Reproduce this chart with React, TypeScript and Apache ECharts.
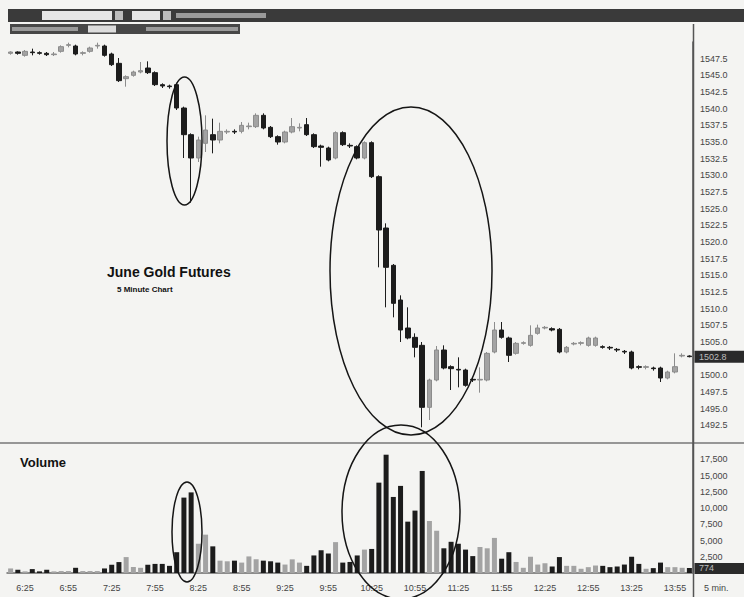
import React, { useEffect, useRef } from 'react';
import * as echarts from 'echarts';

// 5-minute bars starting 6:15
const START_MIN = 6 * 60 + 15;
const BAR_COUNT = 95;
const times: string[] = [];
for (let i = 0; i < BAR_COUNT; i++) {
  const t = START_MIN + i * 5;
  times.push(`${Math.floor(t / 60)}:${String(t % 60).padStart(2, '0')}`);
}

// [open, close, low, high]
const candles: number[][] = [
  [1548.3, 1548.5, 1548.1, 1548.6],
  [1548.5, 1548.3, 1548.1, 1548.6],
  [1548.0, 1548.6, 1547.8, 1548.8],
  [1548.5, 1548.4, 1548.0, 1549.0],
  [1548.4, 1548.3, 1548.1, 1548.6],
  [1548.3, 1548.1, 1547.9, 1548.5],
  [1548.1, 1548.2, 1547.9, 1548.5],
  [1548.6, 1549.3, 1548.4, 1549.5],
  [1549.5, 1549.6, 1549.2, 1549.9],
  [1549.4, 1548.2, 1548.0, 1549.6],
  [1548.3, 1548.4, 1548.0, 1548.6],
  [1548.6, 1549.1, 1548.4, 1549.3],
  [1549.4, 1549.5, 1549.0, 1549.9],
  [1549.4, 1548.0, 1547.8, 1549.6],
  [1548.2, 1546.6, 1546.4, 1548.4],
  [1546.8, 1544.2, 1544.0, 1547.6],
  [1544.5, 1544.8, 1543.3, 1545.0],
  [1545.0, 1545.5, 1544.8, 1545.7],
  [1545.5, 1545.7, 1545.3, 1547.0],
  [1546.1, 1545.4, 1545.2, 1547.1],
  [1545.4, 1543.6, 1543.4, 1545.6],
  [1543.6, 1543.4, 1543.1, 1543.8],
  [1543.4, 1543.3, 1543.0, 1543.6],
  [1543.6, 1540.1, 1539.8, 1543.9],
  [1540.1, 1536.1, 1532.6, 1540.3],
  [1536.1, 1532.6, 1525.9, 1536.3],
  [1532.6, 1535.3, 1532.0, 1535.8],
  [1534.8, 1536.8, 1533.5, 1539.0],
  [1536.1, 1535.3, 1533.3, 1538.5],
  [1535.3, 1536.6, 1534.8, 1537.9],
  [1536.5, 1536.6, 1536.2, 1536.9],
  [1536.6, 1536.5, 1536.2, 1536.9],
  [1536.6, 1537.5, 1536.3, 1538.0],
  [1537.3, 1537.4, 1536.9, 1537.9],
  [1537.3, 1539.0, 1537.1, 1539.3],
  [1539.0, 1537.1, 1536.9, 1539.3],
  [1537.2, 1535.8, 1535.6, 1537.4],
  [1535.8, 1535.0, 1534.6, 1536.0],
  [1535.0, 1536.5, 1534.8, 1536.7],
  [1536.5, 1537.3, 1536.3, 1538.6],
  [1537.1, 1537.2, 1536.6, 1537.8],
  [1537.6, 1536.1, 1535.9, 1538.6],
  [1536.1, 1534.3, 1534.1, 1536.3],
  [1534.4, 1534.2, 1531.3, 1534.6],
  [1534.1, 1532.3, 1532.1, 1534.3],
  [1532.6, 1536.4, 1532.4, 1536.6],
  [1536.4, 1534.6, 1534.4, 1536.6],
  [1534.5, 1534.4, 1534.1, 1534.8],
  [1534.3, 1532.6, 1532.4, 1534.5],
  [1532.6, 1534.9, 1532.4, 1535.1],
  [1534.9, 1529.8, 1529.6, 1535.1],
  [1529.8, 1521.8, 1516.2, 1530.0],
  [1522.1, 1516.2, 1510.2, 1522.8],
  [1516.5, 1510.8, 1508.7, 1516.7],
  [1511.3, 1506.8, 1505.0, 1512.0],
  [1507.1, 1505.6, 1505.4, 1510.2],
  [1505.7, 1504.2, 1502.7, 1506.3],
  [1504.5, 1495.2, 1492.2, 1505.0],
  [1495.2, 1499.3, 1493.3, 1499.5],
  [1499.3, 1503.8, 1499.1, 1504.4],
  [1503.8, 1501.1, 1500.9, 1504.5],
  [1501.3, 1501.0, 1497.8, 1501.5],
  [1500.9, 1500.8, 1498.2, 1502.7],
  [1500.8, 1498.5, 1498.3, 1501.0],
  [1499.4, 1499.3, 1499.0, 1499.6],
  [1499.3, 1499.4, 1497.4, 1501.2],
  [1499.3, 1503.3, 1499.1, 1503.5],
  [1503.5, 1506.8, 1503.3, 1508.0],
  [1506.8, 1505.7, 1505.5, 1508.0],
  [1505.6, 1503.0, 1502.0, 1505.8],
  [1503.3, 1504.8, 1503.1, 1505.0],
  [1504.8, 1504.9, 1504.6, 1505.1],
  [1504.5, 1506.0, 1504.3, 1507.5],
  [1506.3, 1507.1, 1506.1, 1507.6],
  [1507.1, 1507.2, 1506.9, 1507.4],
  [1507.0, 1506.8, 1506.6, 1507.2],
  [1506.9, 1503.5, 1503.3, 1507.1],
  [1503.5, 1504.2, 1503.3, 1504.4],
  [1504.7, 1504.8, 1504.5, 1505.0],
  [1504.8, 1504.9, 1504.5, 1505.1],
  [1504.5, 1505.6, 1504.3, 1505.8],
  [1504.5, 1505.6, 1504.3, 1505.8],
  [1504.3, 1504.2, 1504.0, 1504.5],
  [1504.2, 1504.1, 1503.8, 1504.4],
  [1503.9, 1503.8, 1503.5, 1504.1],
  [1503.6, 1503.5, 1503.2, 1503.8],
  [1503.5, 1501.1, 1500.9, 1503.7],
  [1501.3, 1501.2, 1500.9, 1501.5],
  [1501.2, 1501.3, 1500.9, 1501.5],
  [1501.1, 1501.0, 1500.7, 1501.3],
  [1501.1, 1499.6, 1499.0, 1501.3],
  [1499.6, 1500.5, 1499.4, 1500.7],
  [1500.5, 1501.3, 1500.3, 1503.3],
  [1502.9, 1503.0, 1502.7, 1503.3],
  [1502.9, 1502.8, 1502.7, 1503.0],
];

const volumes: number[] = [
  700, 500, 250, 600, 250, 500, 250, 300, 300, 800,
  300, 300, 300, 700, 1270, 1680, 2450, 920, 800, 1270,
  1400, 1400, 1100, 3200, 11600, 12400, 4500, 5900, 4100, 1900,
  1800, 1900, 1600, 2550, 2100, 1900, 1800, 1600, 1300, 2100,
  1600, 1100, 2700, 3500, 3000, 4750, 1600, 1700, 2700, 3600,
  3700, 13900, 18200, 11700, 13400, 7900, 9600, 15700, 8000, 6500,
  3800, 4800, 4500, 3600, 2600, 4000, 3800, 5400, 2200, 3200,
  1700, 800, 2500, 1300, 1500, 1000, 2450, 1100, 1100, 650,
  900, 1150, 1100, 900, 1000, 1300, 2500, 1400, 650, 750,
  1600, 900, 900, 800, 774,
];

const PRICE_MIN = 1490;
const PRICE_MAX = 1550;
const PRICE_STEP = 2.5;
const VOL_MIN = 0;
const VOL_MAX = 20000;
const VOL_STEP = 2500;

const W = 744;
const H = 597;
const FONT = 'Liberation Sans, Arial, Helvetica, sans-serif';
const DARK = '#1c1c1c';
const GREY = '#a3a3a3';

export default function App() {
  const ref = useRef<HTMLDivElement>(null);
  useEffect(() => {
    if (!ref.current) return;
    const chart = echarts.init(ref.current, null, { renderer: 'svg', width: W, height: H });
    const lastClose = candles[candles.length - 1][1];
    const lastVol = volumes[volumes.length - 1];
    const volData = volumes.map((v, i) => {
      const [o, c] = candles[i];
      return { value: v, itemStyle: { color: c < o ? DARK : GREY } };
    });
    const axisLabelBase = { fontSize: 9, color: '#454545', fontFamily: FONT };
    chart.setOption({
      animation: false,
      backgroundColor: '#f4f4f2',
      grid: [
        { left: 7, top: 42, width: 686, height: 400 },
        { left: 7, top: 443, width: 686, height: 130 },
      ],
      xAxis: [
        {
          type: 'category', gridIndex: 0, data: times,
          axisLine: { show: false }, axisTick: { show: false },
          axisLabel: { show: false }, splitLine: { show: false },
        },
        {
          type: 'category', gridIndex: 1, data: times,
          axisLine: { show: true, lineStyle: { color: '#6a6a6a', width: 1.5 } },
          axisTick: { show: false },
          axisLabel: { ...axisLabelBase, interval: (i: number) => i % 6 === 2, margin: 10 },
          splitLine: { show: false },
        },
      ],
      yAxis: [
        {
          type: 'value', gridIndex: 0, position: 'right',
          min: PRICE_MIN, max: PRICE_MAX, interval: PRICE_STEP,
          axisLine: { show: true, lineStyle: { color: '#555', width: 1.5 } },
          axisTick: { show: false }, splitLine: { show: false },
          axisLabel: {
            ...axisLabelBase, margin: 7, showMinLabel: false, showMaxLabel: false,
            formatter: (v: number) => (Math.abs(v - 1502.5) < 0.01 ? '' : v.toFixed(1)),
          },
        },
        {
          type: 'value', gridIndex: 1, position: 'right',
          min: VOL_MIN, max: VOL_MAX, interval: VOL_STEP,
          axisLine: { show: true, lineStyle: { color: '#555', width: 1.5 } },
          axisTick: { show: false }, splitLine: { show: false },
          axisLabel: {
            ...axisLabelBase, margin: 7, showMinLabel: false, showMaxLabel: false,
            formatter: (v: number) => v.toLocaleString('en-US'),
          },
        },
      ],
      series: [
        {
          type: 'candlestick', xAxisIndex: 0, yAxisIndex: 0, data: candles,
          barWidth: 5,
          itemStyle: { color: GREY, color0: DARK, borderColor: '#8c8c8c', borderColor0: DARK, borderWidth: 1 },
        },
        {
          type: 'bar', xAxisIndex: 1, yAxisIndex: 1, data: volData,
          barWidth: 5,
        },
      ],
    });

    // last-value boxes positioned through the axes' own scales
    const yPrice = chart.convertToPixel({ yAxisIndex: 0 }, lastClose) as number;
    const yVol = chart.convertToPixel({ yAxisIndex: 1 }, lastVol) as number;

    chart.setOption({
      graphic: [
        // toolbar
        { type: 'rect', shape: { x: 8, y: 9, width: 736, height: 13 }, style: { fill: '#3a3a3a' } },
        { type: 'rect', shape: { x: 42, y: 11, width: 70, height: 9 }, style: { fill: '#e6e6e6' } },
        { type: 'rect', shape: { x: 115, y: 11, width: 8, height: 9 }, style: { fill: '#bdbdbd' } },
        { type: 'rect', shape: { x: 132, y: 11, width: 28, height: 9 }, style: { fill: '#e6e6e6' } },
        { type: 'rect', shape: { x: 163, y: 11, width: 8, height: 9 }, style: { fill: '#bdbdbd' } },
        { type: 'rect', shape: { x: 176, y: 13, width: 90, height: 5 }, style: { fill: '#9a9a9a' } },
        { type: 'rect', shape: { x: 10, y: 24, width: 230, height: 10 }, style: { fill: '#474747' } },
        { type: 'rect', shape: { x: 12, y: 27, width: 66, height: 4 }, style: { fill: '#9a9a9a' } },
        { type: 'rect', shape: { x: 88, y: 25.5, width: 28, height: 7 }, style: { fill: '#dcdcdc' } },
        { type: 'rect', shape: { x: 146, y: 27, width: 92, height: 4 }, style: { fill: '#9a9a9a' } },
        // panel separator and axis line
        { type: 'line', shape: { x1: 0, y1: 443, x2: 744, y2: 443 }, style: { stroke: '#777', lineWidth: 1.5 } },
        { type: 'line', shape: { x1: 693.5, y1: 24, x2: 693.5, y2: 597 }, style: { stroke: '#555', lineWidth: 1.5 } },
        // last price / last volume boxes
        { type: 'rect', z: 50, shape: { x: 694.5, y: yPrice - 6, width: 50, height: 12 }, style: { fill: '#2a2a2a' } },
        { type: 'text', z: 51, x: 699, y: yPrice, style: { text: lastClose.toFixed(1), font: `9px ${FONT}`, fill: '#bdbdbd', textVerticalAlign: 'middle' } },
        { type: 'rect', z: 50, shape: { x: 694.5, y: yVol - 5, width: 50, height: 11 }, style: { fill: '#2a2a2a' } },
        { type: 'text', z: 51, x: 699, y: yVol + 0.5, style: { text: String(lastVol), font: `9px ${FONT}`, fill: '#bdbdbd', textVerticalAlign: 'middle' } },
        // texts
        { type: 'text', x: 107, y: 272, style: { text: 'June Gold Futures', font: `bold 14px ${FONT}`, fill: '#111', textVerticalAlign: 'middle' } },
        { type: 'text', x: 117, y: 289, style: { text: '5 Minute Chart', font: `bold 8px ${FONT}`, fill: '#111', textVerticalAlign: 'middle' } },
        { type: 'text', x: 20, y: 462, style: { text: 'Volume', font: `bold 13px ${FONT}`, fill: '#111', textVerticalAlign: 'middle' } },
        { type: 'text', x: 704, y: 588, style: { text: '5 min.', font: `9px ${FONT}`, fill: '#454545', textVerticalAlign: 'middle' } },
        // hand-drawn annotation ellipses
        { type: 'ellipse', z: 100, shape: { cx: 184.5, cy: 141, rx: 17.5, ry: 64 }, style: { fill: 'none', stroke: '#151515', lineWidth: 1.5 } },
        { type: 'ellipse', z: 100, shape: { cx: 411, cy: 271, rx: 81, ry: 164 }, style: { fill: 'none', stroke: '#151515', lineWidth: 1.5 } },
        { type: 'ellipse', z: 100, shape: { cx: 401, cy: 512, rx: 59, ry: 87 }, style: { fill: 'none', stroke: '#151515', lineWidth: 1.5 } },
        { type: 'ellipse', z: 100, shape: { cx: 187, cy: 532, rx: 15, ry: 50 }, style: { fill: 'none', stroke: '#151515', lineWidth: 1.5 } },
      ],
    });
    return () => chart.dispose();
  }, []);
  return <div ref={ref} style={{ position: 'fixed', left: 0, top: 0, width: W, height: H }} />;
}
